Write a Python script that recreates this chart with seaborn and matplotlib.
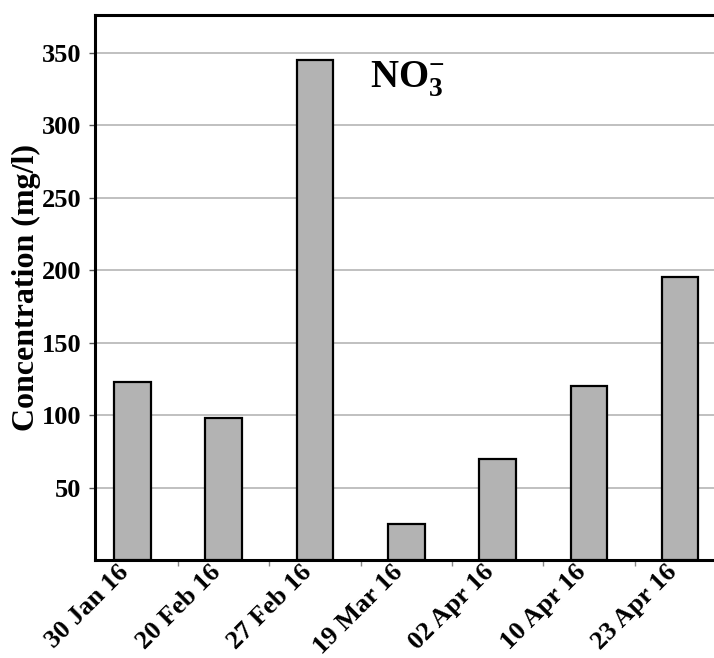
import matplotlib
matplotlib.use("Agg")
import matplotlib.pyplot as plt
import matplotlib.transforms as mtransforms
import seaborn as sns
import pandas as pd
from matplotlib.ticker import FixedLocator

# Sampling dates and nitrate concentrations (mg/l)
dates = ["30 Jan 16", "20 Feb 16", "27 Feb 16", "19 Mar 16",
         "02 Apr 16", "10 Apr 16", "23 Apr 16"]
nitrate = [123, 98, 345, 25, 70, 120, 195]
y_ticks = [50, 100, 150, 200, 250, 300, 350]

df = pd.DataFrame({"date": dates, "conc": nitrate})

sns.set_theme(style="white")
plt.rcParams["font.family"] = ["Liberation Serif", "DejaVu Serif"]
plt.rcParams["text.color"] = "black"
plt.rcParams["axes.labelcolor"] = "black"
plt.rcParams["xtick.color"] = "black"
plt.rcParams["ytick.color"] = "black"
plt.rcParams["mathtext.fontset"] = "custom"
plt.rcParams["mathtext.rm"] = "Liberation Serif:bold"
plt.rcParams["mathtext.bf"] = "Liberation Serif:bold"

fig = plt.figure(figsize=(7.14, 6.58), dpi=100)
W, H = 714, 658
ax = fig.add_axes([95 / W, 1 - 560 / H, 1 - 95 / W, (560 - 15) / H])

sns.barplot(data=df, x="date", y="conc", color="#b3b3b3", saturation=1,
            edgecolor="black", linewidth=1.6, width=0.4, ax=ax, zorder=3)

ax.set_ylim(0, 376)
ax.set_xlim(-0.41, 6.37)
ax.set_yticks(y_ticks)
ax.yaxis.grid(True, color="#b5b5b5", linewidth=1.2, zorder=0)
ax.set_axisbelow(True)

for side in ["left", "bottom", "top"]:
    ax.spines[side].set_linewidth(2.2)
    ax.spines[side].set_color("black")
ax.spines["right"].set_visible(False)

ax.tick_params(axis="y", which="major", left=True, length=4, width=1,
               color="#555555", labelcolor="black", labelsize=19, pad=6)
ax.tick_params(axis="x", which="major", bottom=False, length=0,
               labelcolor="black", labelsize=19, pad=4)
ax.xaxis.set_minor_locator(FixedLocator([i + 0.5 for i in range(len(dates) - 1)]))
ax.tick_params(axis="x", which="minor", bottom=True, length=4, width=1,
               color="#888888")

for lab in ax.get_yticklabels():
    lab.set_fontweight("bold")
shift = mtransforms.ScaledTranslation(-7 / 100, -3 / 100, fig.dpi_scale_trans)
for lab in ax.get_xticklabels():
    lab.set_fontweight("bold")
    lab.set_rotation(45)
    lab.set_ha("right")
    lab.set_va("center")
    lab.set_rotation_mode("anchor")
    lab.set_transform(lab.get_transform() + shift)

ax.set_xlabel("")
ax.set_ylabel("Concentration (mg/l)", fontsize=23, fontweight="bold",
              color="black", labelpad=0)

ax.text(2.6, 326, r"$\mathbf{NO_3^{-}}$", fontsize=28, ha="left",
        va="baseline", color="black", zorder=5)

fig.savefig("out.png", dpi=100)
